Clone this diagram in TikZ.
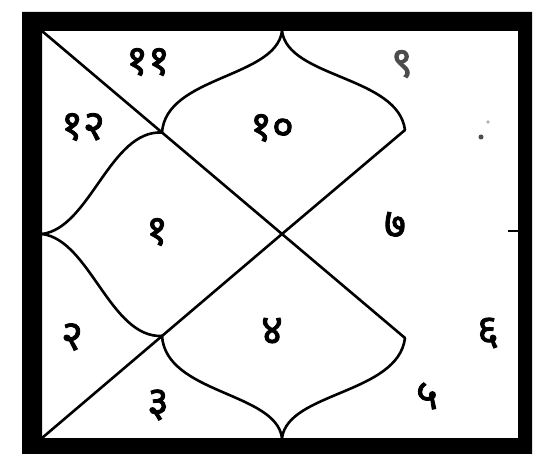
\documentclass[tikz,border=0pt]{standalone}
\usepackage{fontspec}
\newfontfamily\deva[Script=Devanagari,FakeBold=2]{Noto Sans}
\begin{document}
\begin{tikzpicture}[x=1pt,y=-1pt,
  chartline/.style={line width=2.6pt,line cap=round,line join=round},
  num/.style={font=\deva\fontsize{42}{42}\selectfont,inner sep=0pt}]
\useasboundingbox (0,0) rectangle (540,454);
% thick frame
\fill[black,even odd rule] (22,12) rectangle (532,454) (42,31) rectangle (518,438);
% key points
\coordinate (TL) at (42,31);
\coordinate (BL) at (42,438);
\coordinate (C) at (282,234);
\coordinate (Ctop) at (282,31);
\coordinate (Cbot) at (282,438);
\coordinate (Cleft) at (42,234);
\coordinate (RU) at (405,130);
\coordinate (RL) at (405,338);
\coordinate (IU) at (162,132.5);
\coordinate (IL) at (162,336);
% diagonals
\draw[chartline] (TL) -- (C) -- (RL);
\draw[chartline] (BL) -- (C) -- (RU);
% curved petals
\draw[chartline] (Ctop) .. controls (276,78) and (166,76) .. (IU);
\draw[chartline] (Ctop) .. controls (288,78) and (398,76) .. (RU);
\draw[chartline] (Cleft) .. controls (90,228) and (110,130) .. (IU);
\draw[chartline] (Cleft) .. controls (90,240) and (110,338) .. (IL);
\draw[chartline] (Cbot) .. controls (276,392) and (166,394) .. (IL);
\draw[chartline] (Cbot) .. controls (288,392) and (398,394) .. (RL);
% small tick on right border
\coordinate (tickA) at (508,231);
\coordinate (tickB) at (518,231);
\draw[line width=2pt] (tickA) -- (tickB);
% faint marks
\fill[black!70] (481,137) circle (2.5);
\fill[black!30] (488,122) circle (1.8);
% house numbers
\node[num] (h11) at (148,62) {११};
\node[num] (h12) at (83,127) {१२};
\node[num] (h10) at (272,128) {१०};
\node[num,text=black!70] (h9) at (402,64) {९};
\node[num] (h1) at (157,232) {१};
\node[num] (h7) at (395,225) {७};
\node[num] (h2) at (72,337) {२};
\node[num] (h4) at (272,331) {४};
\node[num] (h3) at (158,405) {३};
\node[num] (h6) at (488,333) {६};
\node[num] (h5) at (427,396) {५};
\end{tikzpicture}
\end{document}
